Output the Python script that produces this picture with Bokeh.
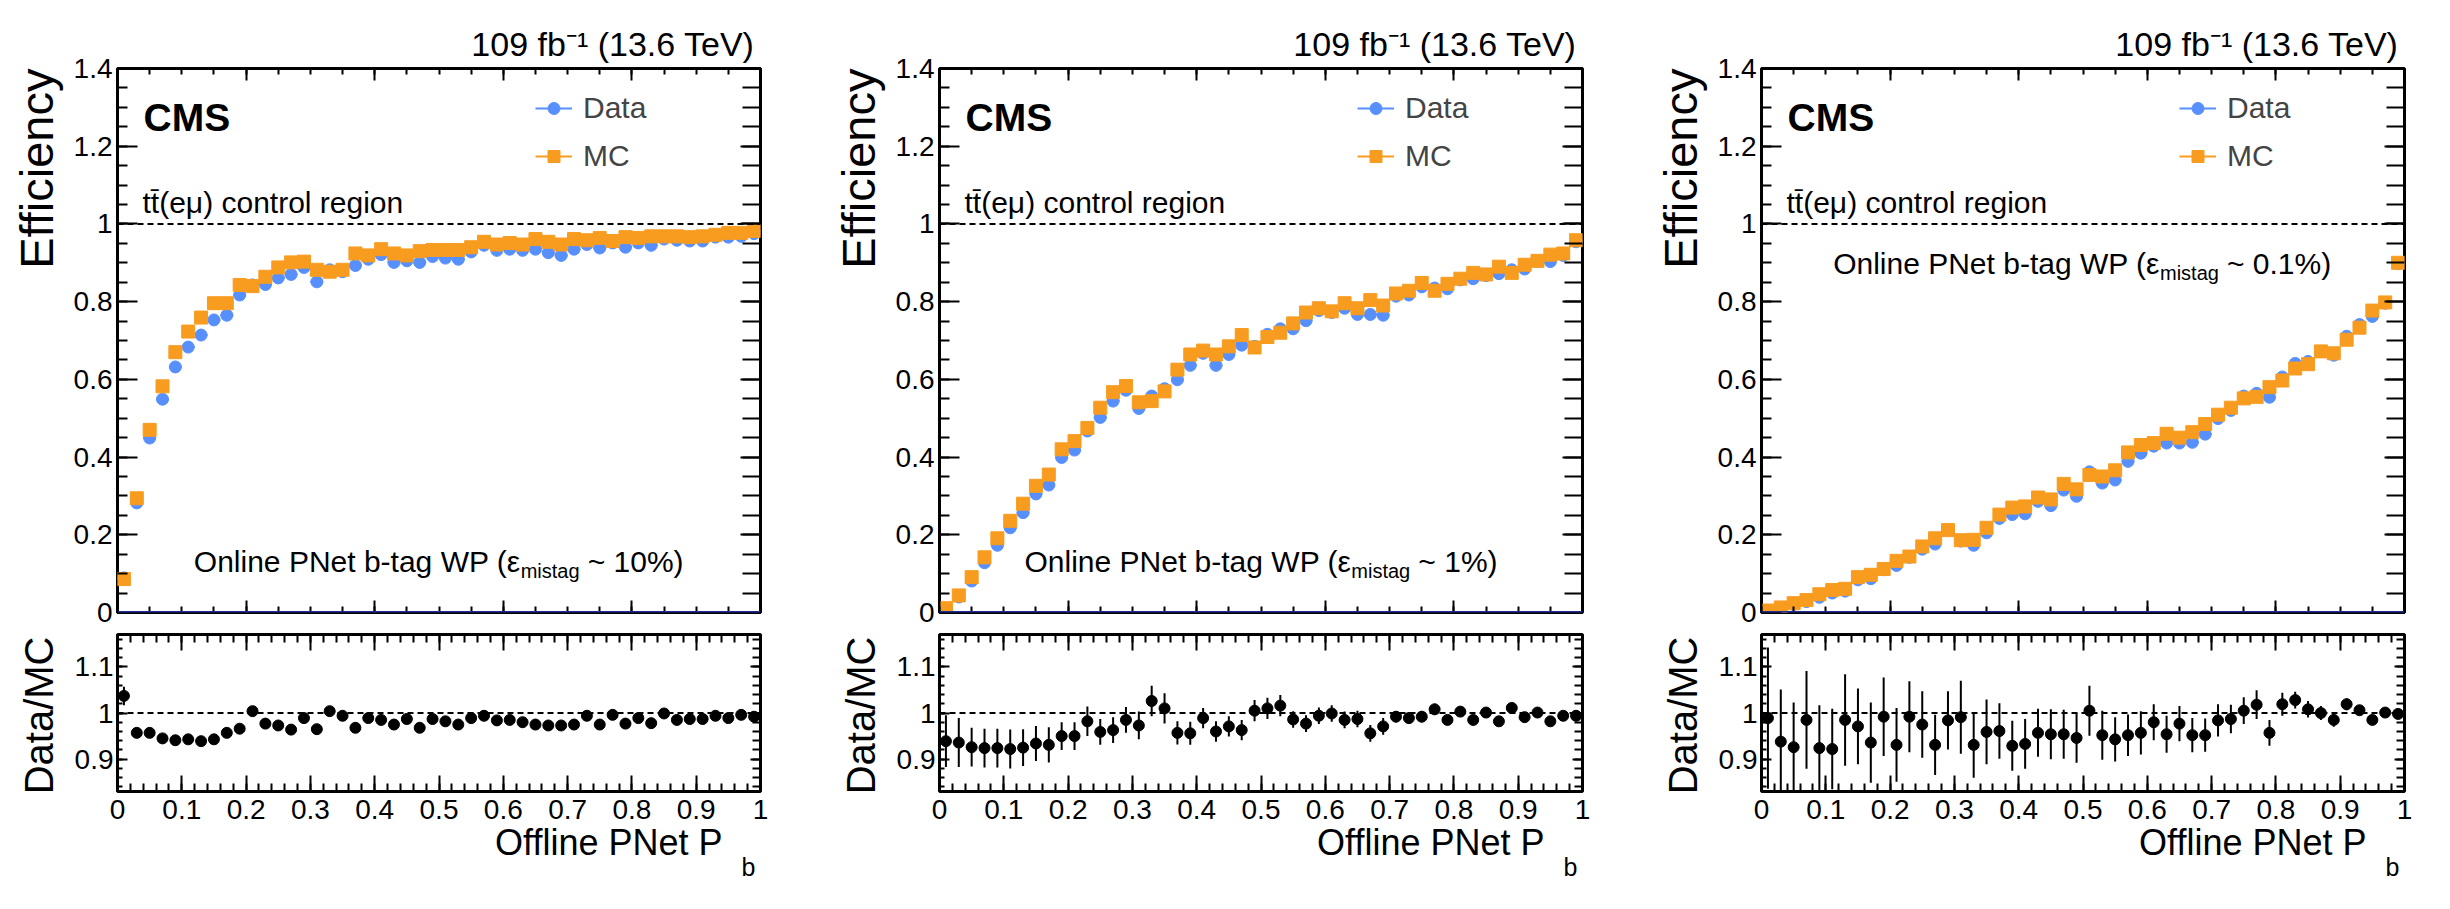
import math
import numpy as np
from bokeh.plotting import figure
from bokeh.models import (Range1d, FixedTicker, LinearAxis, Label, Span, Legend,
                          LegendItem, ColumnDataSource, Title, CustomLabelingPolicy)
from bokeh.layouts import row, column
from bokeh.embed import file_html
from bokeh.resources import INLINE

FONT = "Liberation Sans"
BLUE = "#5790fc"
ORANGE = "#f89c20"
NAVY = "#1f2b8f"

# ---------------- data ----------------
X = [0.01, 0.03, 0.05, 0.07, 0.09, 0.11, 0.13, 0.15, 0.17, 0.19,
     0.21, 0.23, 0.25, 0.27, 0.29, 0.31, 0.33, 0.35, 0.37, 0.39,
     0.41, 0.43, 0.45, 0.47, 0.49, 0.51, 0.53, 0.55, 0.57, 0.59,
     0.61, 0.63, 0.65, 0.67, 0.69, 0.71, 0.73, 0.75, 0.77, 0.79,
     0.81, 0.83, 0.85, 0.87, 0.89, 0.91, 0.93, 0.95, 0.97, 0.99]
BIN_HALF = 0.01

P1_DATA = [0.089, 0.282, 0.449, 0.549, 0.632, 0.683, 0.714, 0.753, 0.765, 0.817,
           0.843, 0.844, 0.861, 0.870, 0.888, 0.851, 0.882, 0.877, 0.893, 0.909,
           0.921, 0.901, 0.905, 0.901, 0.916, 0.912, 0.909, 0.928, 0.945, 0.932,
           0.935, 0.932, 0.935, 0.926, 0.919, 0.935, 0.947, 0.938, 0.951, 0.940,
           0.951, 0.945, 0.961, 0.958, 0.956, 0.956, 0.966, 0.966, 0.968, 0.975]
P1_MC = [0.086, 0.294, 0.470, 0.582, 0.670, 0.723, 0.759, 0.796, 0.796, 0.843,
         0.840, 0.864, 0.888, 0.901, 0.903, 0.882, 0.877, 0.882, 0.924, 0.919,
         0.935, 0.924, 0.919, 0.930, 0.933, 0.933, 0.933, 0.940, 0.954, 0.947,
         0.951, 0.947, 0.961, 0.954, 0.947, 0.961, 0.958, 0.964, 0.956, 0.966,
         0.964, 0.968, 0.968, 0.968, 0.966, 0.968, 0.972, 0.977, 0.977, 0.982]
P1_RATIO = [1.037, 0.957, 0.957, 0.945, 0.941, 0.943, 0.939, 0.943, 0.957, 0.966,
            1.004, 0.977, 0.973, 0.964, 0.989, 0.965, 1.004, 0.994, 0.968, 0.989,
            0.985, 0.975, 0.987, 0.968, 0.987, 0.982, 0.975, 0.989, 0.994, 0.984,
            0.985, 0.980, 0.975, 0.973, 0.973, 0.975, 0.994, 0.975, 0.996, 0.977,
            0.989, 0.978, 0.999, 0.985, 0.987, 0.987, 0.994, 0.989, 0.996, 0.992]
P1_RATIO_ERR = [0.020, 0.008, 0.008, 0.008, 0.008, 0.008, 0.008, 0.008, 0.008, 0.008,
                0.005, 0.005, 0.005, 0.005, 0.005, 0.005, 0.005, 0.005, 0.005, 0.005,
                0.005, 0.005, 0.005, 0.005, 0.005, 0.005, 0.005, 0.005, 0.005, 0.005,
                0.005, 0.005, 0.005, 0.005, 0.005, 0.005, 0.005, 0.005, 0.005, 0.005,
                0.005, 0.005, 0.005, 0.005, 0.005, 0.005, 0.005, 0.005, 0.005, 0.005]

P2_DATA = [0.008, 0.040, 0.081, 0.128, 0.173, 0.218, 0.257, 0.305, 0.328, 0.399,
           0.418, 0.467, 0.502, 0.544, 0.572, 0.525, 0.557, 0.576, 0.599, 0.636,
           0.667, 0.636, 0.664, 0.688, 0.685, 0.716, 0.730, 0.730, 0.751, 0.777,
           0.772, 0.783, 0.767, 0.767, 0.765, 0.814, 0.817, 0.838, 0.835, 0.833,
           0.856, 0.859, 0.867, 0.872, 0.882, 0.884, 0.903, 0.903, 0.919, 0.954]
P2_MC = [0.011, 0.044, 0.091, 0.142, 0.191, 0.236, 0.280, 0.326, 0.355, 0.420,
         0.441, 0.475, 0.527, 0.567, 0.583, 0.541, 0.544, 0.569, 0.625, 0.664,
         0.674, 0.664, 0.685, 0.714, 0.682, 0.709, 0.720, 0.744, 0.772, 0.783,
         0.775, 0.796, 0.783, 0.804, 0.790, 0.821, 0.828, 0.848, 0.828, 0.846,
         0.859, 0.874, 0.870, 0.890, 0.874, 0.895, 0.905, 0.921, 0.924, 0.958]
P2_RATIO = [0.939, 0.936, 0.926, 0.924, 0.924, 0.922, 0.925, 0.934, 0.931, 0.950,
            0.950, 0.982, 0.959, 0.963, 0.985, 0.973, 1.026, 1.010, 0.957, 0.956,
            0.989, 0.960, 0.971, 0.963, 1.005, 1.010, 1.016, 0.986, 0.977, 0.994,
            0.999, 0.985, 0.987, 0.956, 0.971, 0.992, 0.989, 0.992, 1.008, 0.985,
            1.003, 0.985, 1.001, 0.982, 1.011, 0.991, 1.001, 0.982, 0.994, 0.994]
P2_RATIO_ERR = [0.056, 0.053, 0.042, 0.042, 0.042, 0.042, 0.040, 0.038, 0.038, 0.030,
                0.030, 0.032, 0.028, 0.028, 0.028, 0.030, 0.033, 0.033, 0.025, 0.025,
                0.022, 0.022, 0.022, 0.022, 0.023, 0.023, 0.023, 0.018, 0.018, 0.018,
                0.018, 0.018, 0.018, 0.018, 0.018, 0.012, 0.012, 0.012, 0.012, 0.010,
                0.010, 0.010, 0.010, 0.010, 0.010, 0.010, 0.010, 0.010, 0.010, 0.010]

P3_DATA = [0.003, 0.008, 0.021, 0.028, 0.039, 0.050, 0.055, 0.084, 0.087, 0.110,
           0.121, 0.142, 0.163, 0.176, 0.212, 0.184, 0.173, 0.205, 0.242, 0.252,
           0.254, 0.286, 0.275, 0.315, 0.299, 0.362, 0.333, 0.341, 0.389, 0.410,
           0.428, 0.436, 0.436, 0.438, 0.459, 0.499, 0.520, 0.557, 0.564, 0.554,
           0.606, 0.641, 0.646, 0.672, 0.662, 0.711, 0.741, 0.762, 0.796, 0.898]
P3_MC = [0.005, 0.013, 0.024, 0.032, 0.047, 0.058, 0.061, 0.091, 0.097, 0.112,
         0.133, 0.144, 0.170, 0.191, 0.212, 0.186, 0.187, 0.218, 0.252, 0.270,
         0.273, 0.296, 0.291, 0.331, 0.317, 0.354, 0.350, 0.366, 0.412, 0.431,
         0.436, 0.460, 0.450, 0.464, 0.485, 0.509, 0.527, 0.551, 0.555, 0.580,
         0.597, 0.628, 0.639, 0.672, 0.667, 0.702, 0.733, 0.777, 0.798, 0.900]
P3_RATIO = [0.989, 0.938, 0.926, 0.985, 0.924, 0.922, 0.985, 0.971, 0.936, 0.992,
            0.931, 0.992, 0.975, 0.931, 0.984, 0.991, 0.931, 0.959, 0.961, 0.929,
            0.933, 0.957, 0.954, 0.954, 0.946, 1.005, 0.952, 0.943, 0.952, 0.957,
            0.980, 0.954, 0.977, 0.952, 0.952, 0.984, 0.987, 1.005, 1.018, 0.957,
            1.019, 1.028, 1.008, 1.000, 0.985, 1.019, 1.006, 0.985, 1.001, 0.998]
P3_RATIO_ERR = [0.153, 0.113, 0.097, 0.106, 0.093, 0.087, 0.099, 0.082, 0.087, 0.085,
                0.080, 0.077, 0.072, 0.065, 0.063, 0.079, 0.071, 0.070, 0.060, 0.054,
                0.054, 0.052, 0.054, 0.053, 0.054, 0.054, 0.053, 0.048, 0.045, 0.047,
                0.039, 0.040, 0.038, 0.037, 0.036, 0.035, 0.031, 0.029, 0.031, 0.028,
                0.025, 0.018, 0.018, 0.015, 0.015, 0.013, 0.008, 0.008, 0.008, 0.008]

WP_LABELS = ["~ 10%)", "~ 1%)", "~ 0.1%)"]

# ---------------- ticks ----------------
MAIN_Y_TICKS = [0, 0.2, 0.4, 0.6, 0.8, 1.0, 1.2, 1.4]
MAIN_Y_LABELS = ["0", "0.2", "0.4", "0.6", "0.8", "1", "1.2", "1.4"]
MAIN_X_TICKS = [0, 0.2, 0.4, 0.6, 0.8, 1.0]
RATIO_X_TICKS = [0, 0.1, 0.2, 0.3, 0.4, 0.5, 0.6, 0.7, 0.8, 0.9, 1.0]
RATIO_X_LABELS = ["0", "0.1", "0.2", "0.3", "0.4", "0.5", "0.6", "0.7", "0.8", "0.9", "1"]
RATIO_Y_TICKS = [0.9, 1.0, 1.1]
RATIO_Y_LABELS = ["0.9", "1", "1.1"]

MAIN_Y_MINOR = [round(v, 3) for v in np.arange(0, 1.4001, 0.05)]
MAIN_X_MINOR = [round(v, 3) for v in np.arange(0, 1.0001, 0.05)]
RATIO_X_MINOR = [round(v, 3) for v in np.arange(0, 1.0001, 0.02)]
RATIO_Y_MINOR = [round(v, 3) for v in np.arange(0.82, 1.18, 0.02)]

# ---------------- layout constants ----------------
BL = 114          # left border
FW = 646          # frame width
MAIN_TOP = 68
MAIN_FH = 544
MAIN_BOT = 18
RAT_TOP = 1
RAT_FH = 160
RAT_BOT = 95


def add_axis(p, side, ticks, minor, major_in, minor_in, labels=None, size="28px", standoff=5):
    ax = LinearAxis(ticker=FixedTicker(ticks=ticks, minor_ticks=minor))
    ax.axis_line_color = None
    ax.major_tick_in = major_in
    ax.major_tick_out = 0
    ax.minor_tick_in = minor_in
    ax.minor_tick_out = 0
    ax.major_tick_line_width = 2
    ax.minor_tick_line_width = 2
    ax.major_tick_line_color = "black"
    ax.minor_tick_line_color = "black"
    if labels is not None:
        ax.major_label_overrides = {float(t): l for t, l in zip(ticks, labels)}
        ax.major_label_text_font = FONT
        ax.major_label_text_font_size = size
        ax.major_label_text_color = "black"
        ax.major_label_standoff = standoff
    else:
        # tick marks only: no label is drawn on this side
        ax.major_label_policy = CustomLabelingPolicy(code="return []")
        ax.major_label_text_font_size = "1px"
        ax.major_label_standoff = 0
    p.add_layout(ax, side)
    return ax


def lab(p, text, x, y, size, align="left", xu="screen", yu="screen", bold=False, x_offset=0):
    p.add_layout(Label(x=x, y=y, x_units=xu, y_units=yu, text=text, text_font=FONT,
                       text_font_size=f"{size}px", text_align=align,
                       text_baseline="alphabetic", x_offset=x_offset,
                       text_font_style="bold" if bold else "normal", text_color="black"))


def side_title(p, side, text, size, align, offset, valign, standoff):
    p.add_layout(Title(text=text, align=align, offset=offset, vertical_align=valign,
                       standoff=standoff, text_font=FONT, text_font_size=f"{size}px",
                       text_font_style="normal", text_color="black"), side)


def base_fig(width, height, yr, top, bottom, right):
    p = figure(width=width, height=height, x_range=Range1d(0, 1), y_range=yr,
               output_backend="svg", toolbar_location=None,
               x_axis_location=None, y_axis_location=None,
               min_border_left=BL, min_border_right=right,
               min_border_top=top, min_border_bottom=bottom)
    for g in p.grid:
        g.visible = False
    p.outline_line_color = "black"
    p.outline_line_width = 3
    p.background_fill_color = "white"
    p.border_fill_color = "white"
    return p


def make_panel(data, mc, ratio, rerr, wp_label, wp_y, wp_xm, right):
    width = BL + FW + right
    # ---- main pad ----
    m = base_fig(width, MAIN_TOP + MAIN_FH + MAIN_BOT, Range1d(0, 1.4), MAIN_TOP, MAIN_BOT, right)
    add_axis(m, "left", MAIN_Y_TICKS, MAIN_Y_MINOR, 20, 10, MAIN_Y_LABELS, "28px", 5)
    add_axis(m, "right", MAIN_Y_TICKS, MAIN_Y_MINOR, 20, 18)
    add_axis(m, "below", MAIN_X_TICKS, MAIN_X_MINOR, 12, 6)
    add_axis(m, "above", MAIN_X_TICKS, MAIN_X_MINOR, 12, 6)
    side_title(m, "above", "109 fb\u207b\u00b9 (13.6 TeV)", 34, "right", 6, "bottom", 4)
    side_title(m, "left", "Efficiency", 47, "right", 0, "bottom", 15)

    xs = np.array(X)
    src = ColumnDataSource(dict(x=xs, x0=xs - BIN_HALF, x1=xs + BIN_HALF,
                                data=data, mc=mc))
    m.add_layout(Span(location=1.0, dimension="width", line_color="black",
                      line_dash="6 4", line_width=2))
    d_bar = m.segment(x0="x0", y0="data", x1="x1", y1="data", source=src,
                      line_color=BLUE, line_width=2)
    d_pts = m.scatter("x", "data", source=src, marker="circle", size=12,
                      fill_color=BLUE, line_color=BLUE)
    m_bar = m.segment(x0="x0", y0="mc", x1="x1", y1="mc", source=src,
                      line_color=ORANGE, line_width=2)
    m_pts = m.scatter("x", "mc", source=src, marker="square", size=13,
                      fill_color=ORANGE, line_color=ORANGE)
    m.add_layout(Span(location=0.0, dimension="width", line_color=NAVY, line_width=3))

    legend = Legend(items=[LegendItem(label="Data", renderers=[d_bar, d_pts]),
                           LegendItem(label="MC", renderers=[m_bar, m_pts])],
                    location=(418, 439), orientation="vertical",
                    glyph_width=37, glyph_height=30, label_standoff=11, spacing=14,
                    padding=0, margin=0, border_line_alpha=0, background_fill_alpha=0,
                    label_text_font=FONT, label_text_font_size="30px", label_height=30)
    m.add_layout(legend)

    # texts inside the frame (screen units relative to the frame's bottom-left corner)
    lab(m, "CMS", 26, 495, 39, bold=True)
    lab(m, "tt\u0304(e\u03bc) control region", 25, 410, 30)
    lab(m, "Online PNet b-tag WP (\u03b5", wp_xm, wp_y, 30, align="right", xu="data")
    lab(m, "mistag", wp_xm, wp_y - 9, 20, xu="data")
    lab(m, wp_label, wp_xm, wp_y, 30, xu="data", x_offset=67)

    # ---- ratio pad ----
    r = base_fig(width, RAT_TOP + RAT_FH + RAT_BOT, Range1d(0.83, 1.17), RAT_TOP, RAT_BOT, right)
    add_axis(r, "left", RATIO_Y_TICKS, RATIO_Y_MINOR, 10, 5, RATIO_Y_LABELS, "28px", 4)
    add_axis(r, "right", RATIO_Y_TICKS, RATIO_Y_MINOR, 10, 8)
    add_axis(r, "below", RATIO_X_TICKS, RATIO_X_MINOR, 16, 8, RATIO_X_LABELS, "28px", 8)
    add_axis(r, "above", RATIO_X_TICKS, RATIO_X_MINOR, 16, 8)
    side_title(r, "left", "Data/MC", 40, "right", 2, "bottom", 22)
    side_title(r, "below", "Offline PNet P", 36, "right", 38, "top", 0)
    side_title(r, "below", "b", 25, "right", 5, "top", -23)

    ra = np.array(ratio)
    re = np.array(rerr)
    rsrc = ColumnDataSource(dict(x=xs, r=ra, lo=ra - re, hi=ra + re))
    r.add_layout(Span(location=1.0, dimension="width", line_color="black",
                      line_dash="6 4", line_width=2))
    r.segment(x0="x", y0="lo", x1="x", y1="hi", source=rsrc, line_color="black", line_width=2)
    r.scatter("x", "r", source=rsrc, marker="circle", size=11,
              fill_color="black", line_color="black")
    return column(m, r)


panels = [
    make_panel(P1_DATA, P1_MC, P1_RATIO, P1_RATIO_ERR, WP_LABELS[0], 51, 0.627, 62),
    make_panel(P2_DATA, P2_MC, P2_RATIO, P2_RATIO_ERR, WP_LABELS[1], 51, 0.6405, 62),
    make_panel(P3_DATA, P3_MC, P3_RATIO, P3_RATIO_ERR, WP_LABELS[2], 349, 0.6197, 30),
]
layout = row(*panels)

open("out.html", "w").write(file_html(layout, INLINE))
